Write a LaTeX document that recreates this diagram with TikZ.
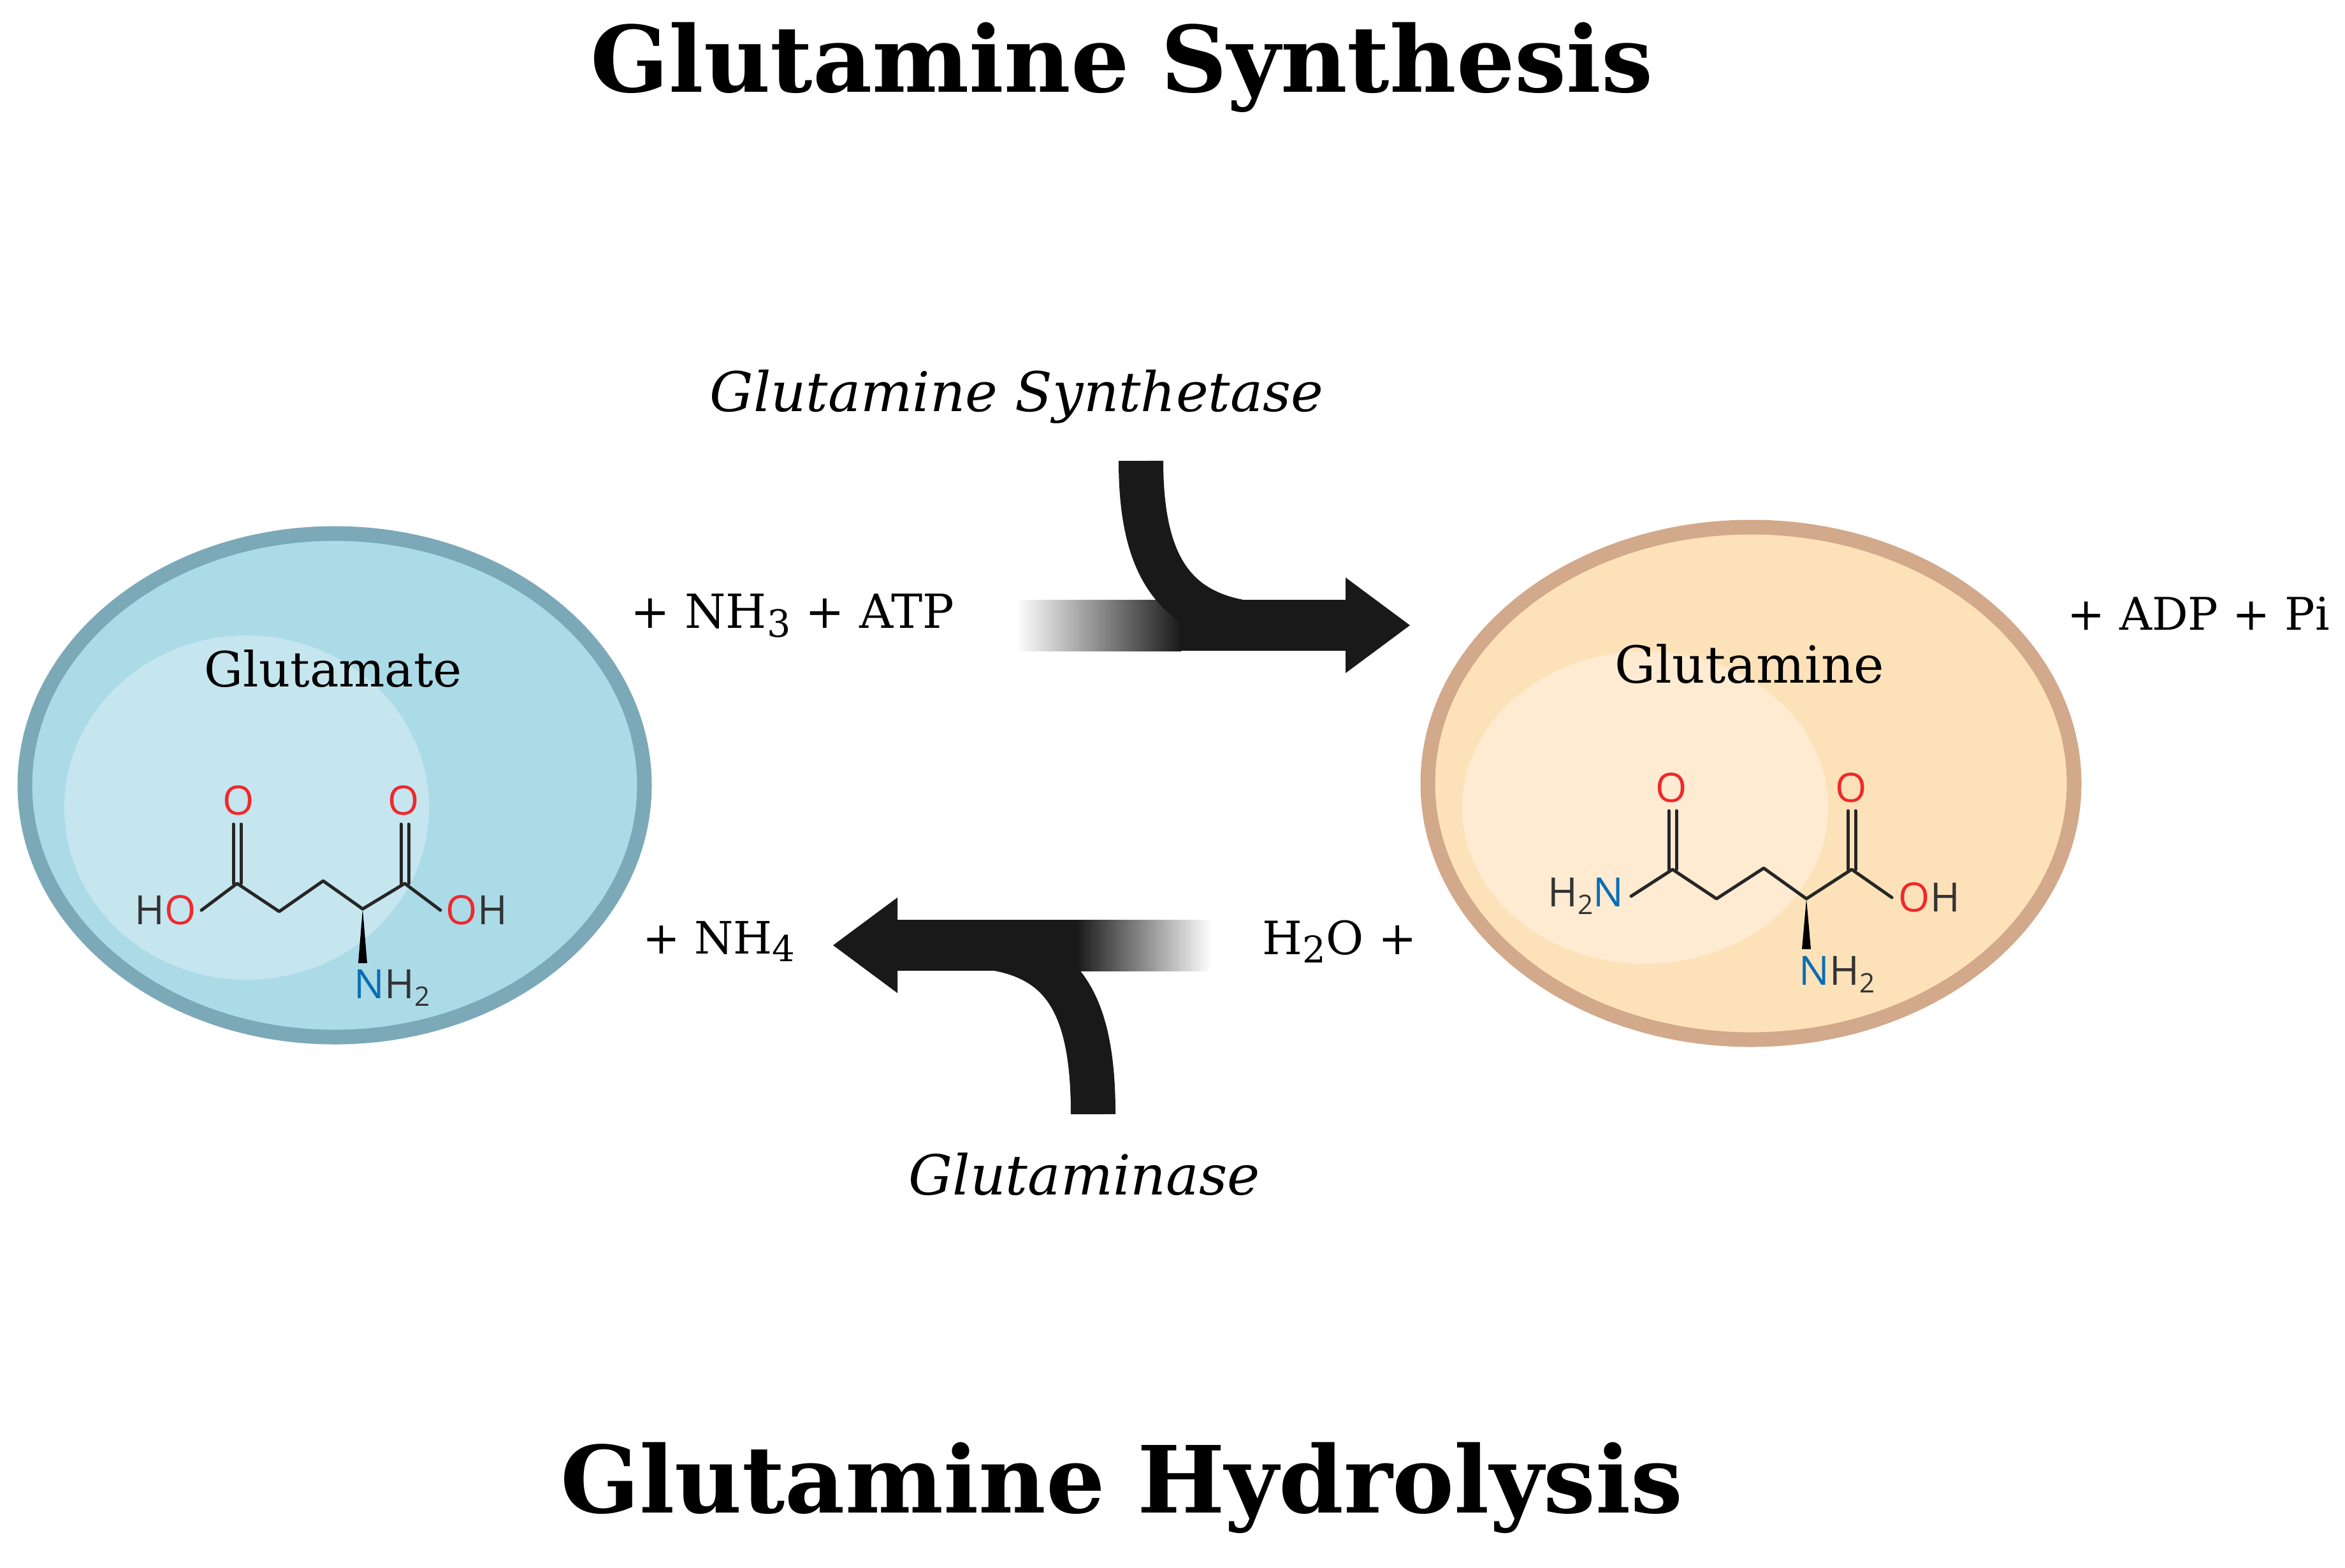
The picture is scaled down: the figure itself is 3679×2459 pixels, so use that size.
\documentclass[tikz,border=0pt]{standalone}
\usepackage{fontspec}
\setmainfont{DejaVu Serif}
\newfontfamily\atomf{Open Sans}
\usepackage{graphicx}
\newcommand\fw[2]{\resizebox{#1}{!}{#2}}
\newcommand\lowr[1]{\raisebox{-0.35ex}{\footnotesize #1}}
\definecolor{gaB}{HTML}{7BA9B8}
\definecolor{gaF}{HTML}{ACDBE8}
\definecolor{gaI}{HTML}{C6E6EF}
\definecolor{gnB}{HTML}{D2A98A}
\definecolor{gnF}{HTML}{FDE2B9}
\definecolor{gnI}{HTML}{FEEBD1}
\definecolor{oxy}{HTML}{F0282D}
\definecolor{nit}{HTML}{0A6EB4}
\tikzset{
  lbl/.style={inner sep=0pt, anchor=center},
  bond/.style={line width=0.05cm, draw=black!85, line cap=round, line join=round},
  atom/.style={inner sep=0pt, font=\atomf\fontsize{18}{18}\selectfont, text=black!80},
  ox/.style={atom, text=oxy},
  ni/.style={atom, text=nit},
  fat/.style={line width=0.7cm, draw=black!90},
}
\begin{document}
\begin{tikzpicture}[x=0.01cm,y=-0.01cm]
\useasboundingbox (0,0) rectangle (3679,2459);
\fill[white] (0,0) rectangle (3679,2459);
% titles
\node[lbl] (t1) at (1760,106) {\fw{16.66cm}{\bfseries Glutamine Synthesis}};
\node[lbl] (t2) at (1760,2334) {\fw{17.6cm}{\bfseries Glutamine Hydrolysis}};
% ellipses
\draw[gaB, fill=gaF, line width=0.23cm] (525,1232) ellipse [x radius=486, y radius=395];
\fill[gaI] (387,1267) ellipse [x radius=286, y radius=270];
\draw[gnB, fill=gnF, line width=0.23cm] (2747,1229) ellipse [x radius=507, y radius=402];
\fill[gnI] (2581,1267) ellipse [x radius=287, y radius=245];
% labels
\node[lbl] (glu) at (523,1049) {\fw{4.04cm}{Glutamate}};
\node[lbl] (gln) at (2745,1042) {\fw{4.22cm}{Glutamine}};
\node[lbl] (gs) at (1595,622) {\fw{9.62cm}{\itshape Glutamine Synthetase}};
\node[lbl] (gase) at (1701,1842) {\fw{5.51cm}{\itshape Glutaminase}};
\node[lbl] (r1) at (1243,966) {\fw{5.07cm}{+ NH\lowr{3} + ATP}};
\node[lbl] (r2) at (3449,962) {\fw{4.11cm}{+ ADP + Pi}};
\node[lbl] (r3) at (2102,1477) {\fw{2.42cm}{H\lowr{2}O +}};
\node[lbl] (r4) at (1128,1477) {\fw{2.39cm}{+ NH\lowr{4}}};
% synthesis arrow
\shade[left color=white, right color=black!90] (1595,941) rectangle (1853,1021);
\fill[black!90] (1852,941) rectangle (2111,1021);
\fill[black!90] (2111,906) -- (2212,981) -- (2111,1056) -- cycle;
\draw[fat] (1790,723) .. controls (1790,900) and (1850,981) .. (2010,981);
% hydrolysis arrow
\shade[left color=black!90, right color=white] (1689,1443) rectangle (1900,1523);
\fill[black!90] (1408,1443) rectangle (1690,1523);
\fill[black!90] (1408,1408) -- (1307,1483) -- (1408,1558) -- cycle;
\draw[fat] (1715,1748) .. controls (1715,1560) and (1660,1483) .. (1500,1483);
% glutamate molecule
\draw[bond] (316,1428) -- (372,1386) -- (438,1430) -- (507,1382) -- (569,1426) -- (635,1386) -- (691,1428);
\draw[bond] (366,1386) -- (366,1293) (378,1386) -- (378,1293);
\draw[bond] (629,1386) -- (629,1293) (641,1386) -- (641,1293);
\fill[black] (569,1426) -- (562,1511) -- (576,1511) -- cycle;
\node[ox] (go1) at (374,1256) {O};
\node[ox] (go2) at (633,1256) {O};
\node[atom, anchor=east] (gho) at (308,1428) {H\textcolor{oxy}{O}};
\node[atom, anchor=west] (goh) at (699,1428) {\textcolor{oxy}{O}H};
\node[atom, anchor=west] (gnh) at (555,1550) {\textcolor{nit}{N}H\lowr{\fontsize{12}{12}\selectfont 2}};
% glutamine molecule
\draw[bond] (2559,1406) -- (2624,1364) -- (2693,1410) -- (2767,1362) -- (2834,1410) -- (2905,1364) -- (2968,1408);
\draw[bond] (2618,1364) -- (2618,1272) (2630,1364) -- (2630,1272);
\draw[bond] (2899,1364) -- (2899,1272) (2911,1364) -- (2911,1272);
\fill[black] (2834,1410) -- (2827,1489) -- (2841,1489) -- cycle;
\node[ox] (no1) at (2622,1236) {O};
\node[ox] (no2) at (2904,1236) {O};
\node[atom, anchor=east] (nh2n) at (2548,1406) {H\lowr{\fontsize{12}{12}\selectfont 2}\textcolor{nit}{N}};
\node[atom, anchor=west] (noh) at (2978,1408) {\textcolor{oxy}{O}H};
\node[atom, anchor=west] (nnh) at (2822,1529) {\textcolor{nit}{N}H\lowr{\fontsize{12}{12}\selectfont 2}};
\end{tikzpicture}
\end{document}
